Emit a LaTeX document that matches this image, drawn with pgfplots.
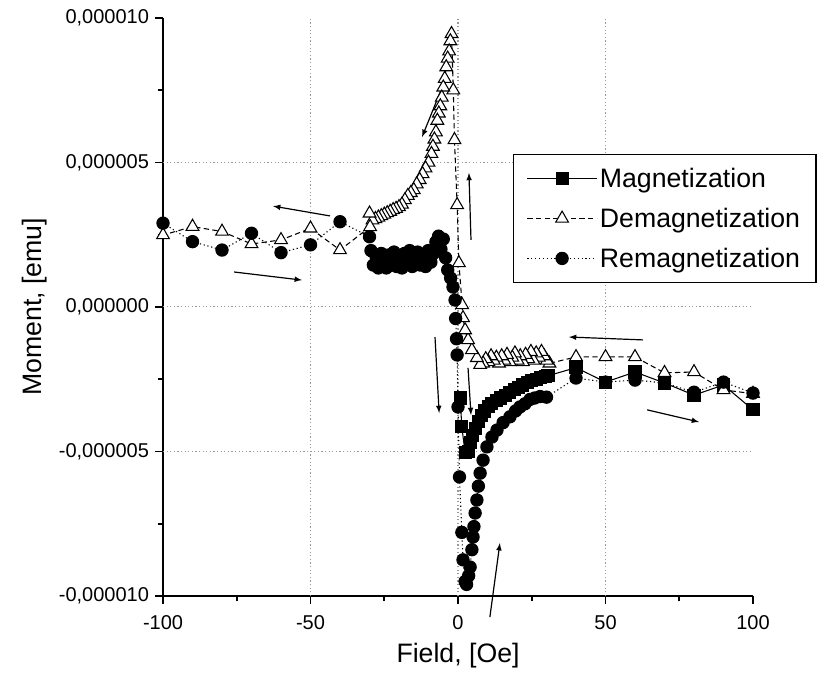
\documentclass[border=0pt]{standalone}
\usepackage{fontspec}
\setmainfont{Liberation Sans}
\usepackage{pgfplots}
\pgfplotsset{compat=1.18}

\begin{document}
\begin{tikzpicture}
\begin{axis}[
  width=442.5pt, height=433.5pt, scale only axis,
  xmin=-100, xmax=100, ymin=-1e-5, ymax=1e-5,
  axis lines=left,
  axis line style={-, line width=1.4pt},
  tick style={line width=1.4pt, black},
  tick align=outside,
  major tick length=6pt, minor tick length=4pt,
  xtick={-100,-50,0,50,100}, minor x tick num=1,
  ytick={-1e-5,-5e-6,0,5e-6,1e-5}, minor y tick num=1,
  scaled y ticks=false,
  yticklabels={{-0,000010},{-0,000005},{0,000000},{0,000005},{0,000010}},
  /pgf/number format/assume math mode=true,
  ticklabel style={font=\fontsize{15}{17}\selectfont},
  yticklabel style={xshift=-1pt},
  xticklabel style={yshift=-5pt},
  extra x ticks={-50,0,50}, extra x tick labels={},
  extra y ticks={-5e-6,0,5e-6}, extra y tick labels={},
  extra tick style={grid=major, major tick length=0pt, minor tick num=0},
  major grid style={gray!80, line width=0.8pt, dash pattern=on 0.9pt off 1.8pt},
  xlabel={Field, [Oe]}, ylabel={Moment, [emu]},
  label style={font=\fontsize{20}{24}\selectfont},
  xlabel style={at={(axis description cs:0.5,-0.104)}, anchor=center},
  ylabel style={at={(axis description cs:-0.217,0.5)}, anchor=center},
  clip=false,
  legend style={at={(axis description cs:0.593,0.765)}, anchor=north west,
    draw=black, line width=1pt, font=\fontsize{20}{23}\selectfont,
    row sep=10pt, inner xsep=10pt, inner ysep=8pt},
  legend cell align=left,
  legend image code/.code={\draw[mark repeat=2,mark phase=2] plot coordinates {(0pt,0pt) (26pt,0pt) (52pt,0pt)};},
]
% bounding box of the reference frame
\path (axis description cs:-0.2763,-0.1626) rectangle (axis description cs:1.1288,1.0311);

\addplot[black, line width=0.8pt, mark=square*, mark size=4.5pt, mark options={solid, fill=black}] coordinates {
(0.7,-3.15e-6) (1.3,-4.15e-6) (2.4,-5.05e-6) (3.4,-5.0e-6) (4.2,-4.7e-6) (5.0,-4.45e-6)
(6.0,-4.2e-6) (7.0,-3.95e-6) (8.0,-3.75e-6) (9.0,-3.6e-6) (10.2,-3.45e-6) (11.5,-3.35e-6)
(13,-3.25e-6) (14.5,-3.15e-6) (16,-3.05e-6) (17.5,-2.95e-6) (19,-2.85e-6) (20.5,-2.78e-6)
(22,-2.7e-6) (23.5,-2.62e-6) (25,-2.55e-6) (26.5,-2.5e-6) (28,-2.45e-6) (29.5,-2.4e-6)
(30.5,-2.38e-6) (40,-2.1e-6) (50,-2.6e-6) (60,-2.25e-6) (70,-2.63e-6) (80,-3.05e-6)
(90,-2.7e-6) (100,-3.56e-6)
};
\addlegendentry{Magnetization}

\addplot[black, line width=0.8pt, dash pattern=on 4pt off 2.5pt, mark=triangle*, mark size=5.5pt, mark options={solid, fill=white}] coordinates {
(100,-3.0e-6) (90,-2.87e-6) (80,-2.25e-6) (70,-2.28e-6) (60,-1.73e-6) (50,-1.73e-6) (40,-1.73e-6)
(31,-1.95e-6) (30.1,-1.85e-6) (29.2,-1.7e-6) (28.3,-1.55e-6) (27.4,-1.75e-6) (26.5,-1.6e-6)
(25.6,-1.85e-6) (24.7,-1.55e-6) (23.8,-1.8e-6) (22.9,-1.65e-6) (22,-1.9e-6) (21.1,-1.7e-6)
(20.2,-1.85e-6) (19.3,-1.6e-6) (18.4,-1.75e-6) (17.5,-1.9e-6) (16.6,-1.65e-6) (15.7,-1.85e-6)
(14.8,-1.7e-6) (13.9,-1.95e-6) (13,-1.75e-6) (12.1,-1.85e-6) (11.2,-1.7e-6) (10.3,-1.9e-6)
(9.4,-1.8e-6) (8.5,-1.95e-6) (7.5,-2.0e-6) (6.4,-1.76e-6) (4.7,-1.49e-6) (3.4,-1.14e-6)
(2.4,-0.8e-6) (1.7,-0.38e-6) (1.4,0.07e-6) (0.3,1.52e-6) (-0.3,3.53e-6) (-1.2,5.78e-6)
(-1.6,7.5e-6) (-2.2,9.45e-6) (-2.6,9.2e-6) (-3,8.85e-6) (-3.5,8.6e-6) (-4,8.3e-6)
(-4.5,7.9e-6) (-5,7.6e-6) (-5.5,7.25e-6) (-6,6.95e-6) (-6.5,6.7e-6) (-7,6.45e-6)
(-7.5,6.05e-6) (-8,5.8e-6) (-8.5,5.55e-6) (-9,5.3e-6) (-10,5.0e-6) (-11,4.8e-6)
(-12,4.6e-6) (-13,4.4e-6) (-14,4.25e-6) (-15,4.05e-6) (-16,3.95e-6) (-17,3.85e-6)
(-18,3.7e-6) (-19,3.55e-6) (-20,3.46e-6) (-21,3.4e-6) (-22,3.36e-6) (-23,3.3e-6)
(-24,3.25e-6) (-25,3.2e-6) (-26,3.15e-6) (-27,3.1e-6) (-28,3.05e-6) (-29,3.0e-6)
(-30,3.24e-6) (-29.8,2.77e-6) (-40,1.97e-6) (-50,2.72e-6) (-60,2.32e-6) (-70,2.18e-6)
(-80,2.61e-6) (-90,2.78e-6) (-100,2.49e-6)
};
\addlegendentry{Demagnetization}

\addplot[black, line width=0.8pt, dash pattern=on 0.9pt off 2pt, mark=*, mark size=4.6pt, mark options={solid, fill=black}] coordinates {
(-100,2.90e-6) (-90,2.26e-6) (-80,1.97e-6) (-70,2.55e-6) (-60,1.88e-6) (-50,2.15e-6)
(-40,2.95e-6) (-30,2.43e-6) (-29.5,1.95e-6) (-28.7,1.45e-6) (-27.8,1.75e-6) (-27,1.35e-6)
(-26,1.85e-6) (-25.2,1.5e-6) (-24.3,1.35e-6) (-23.5,1.8e-6) (-22.6,1.45e-6) (-21.7,1.9e-6)
(-20.8,1.4e-6) (-20,1.7e-6) (-19,1.35e-6) (-18.2,1.85e-6) (-17.3,1.5e-6) (-16.4,1.95e-6)
(-15.5,1.4e-6) (-14.6,1.75e-6) (-13.7,1.9e-6) (-12.8,1.45e-6) (-11.9,1.8e-6) (-11,1.4e-6)
(-10.1,1.95e-6) (-9.2,1.55e-6) (-8.3,1.85e-6) (-7.5,2.25e-6) (-6.6,2.45e-6) (-5.8,2.0e-6)
(-5,2.35e-6) (-4.2,1.7e-6) (-3.5,1.28e-6) (-2.5,1.0e-6) (-1.7,0.69e-6) (-1,0.24e-6)
(-0.8,-0.4e-6) (-0.5,-1.1e-6) (-0.3,-1.66e-6) (0,-3.46e-6) (0.5,-5.88e-6) (1.3,-7.8e-6)
(1.7,-8.75e-6) (2.4,-9.5e-6) (2.9,-9.6e-6) (3.6,-9.3e-6) (4.1,-9.0e-6) (4.7,-8.4e-6)
(5.1,-7.96e-6) (5.4,-7.6e-6) (5.8,-7.13e-6) (6.4,-6.68e-6) (6.9,-6.2e-6) (7.5,-5.75e-6)
(8.5,-5.3e-6) (9.8,-4.84e-6) (11.5,-4.5e-6) (13.2,-4.26e-6) (15.3,-4.0e-6) (17.6,-3.8e-6)
(19.5,-3.6e-6) (21,-3.46e-6) (22.7,-3.35e-6) (24.4,-3.2e-6) (26,-3.15e-6) (27.8,-3.1e-6)
(30,-3.12e-6) (40,-2.46e-6) (50,-2.6e-6) (60,-2.53e-6) (70,-2.63e-6) (80,-2.95e-6)
(90,-2.6e-6) (100,-2.98e-6)
};
\addlegendentry{Remagnetization}

% direction arrows
\begin{scope}[line width=0.9pt, -latex]
\draw (axis cs:-4.4,7.85e-6) -- (axis cs:-12.2,5.88e-6);
\draw (axis cs:4.4,2.32e-6) -- (axis cs:3.7,4.64e-6);
\draw (axis cs:-43.4,3.15e-6) -- (axis cs:-62.7,3.49e-6);
\draw (axis cs:-75.9,1.21e-6) -- (axis cs:-52.9,0.93e-6);
\draw (axis cs:-7.8,-1.04e-6) -- (axis cs:-6.4,-3.67e-6);
\draw (axis cs:3.4,-2.11e-6) -- (axis cs:4.4,-3.74e-6);
\draw (axis cs:10.8,-10.73e-6) -- (axis cs:14.2,-8.17e-6);
\draw (axis cs:62.7,-1.14e-6) -- (axis cs:37.6,-1.04e-6);
\draw (axis cs:64.1,-3.56e-6) -- (axis cs:81.7,-3.98e-6);
\end{scope}
\end{axis}
\end{tikzpicture}
\end{document}
